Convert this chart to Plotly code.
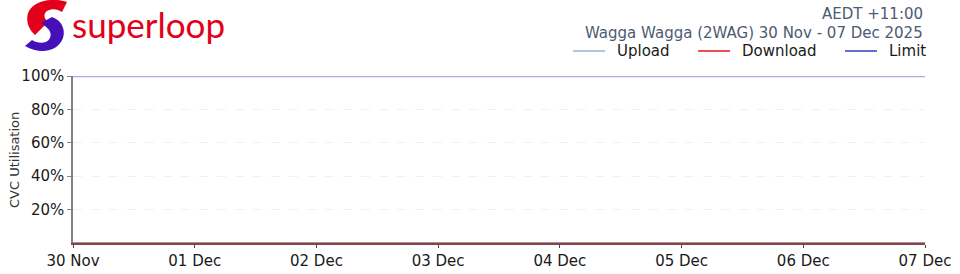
import plotly.graph_objects as go

# ---- data ----
times = ["2025-11-30 00:00", "2025-12-01 00:00", "2025-12-02 00:00", "2025-12-03 00:00",
         "2025-12-04 00:00", "2025-12-05 00:00", "2025-12-06 00:00", "2025-12-07 00:00"]
upload = [0, 0, 0, 0, 0, 0, 0, 0]
download = [0, 0, 0, 0, 0, 0, 0, 0]
limit = [100, 100, 100, 100, 100, 100, 100, 100]
y_ticks = [20, 40, 60, 80, 100]
y_tick_labels = ["20%", "40%", "60%", "80%", "100%"]
x_ticks = times
x_tick_labels = ["30 Nov", "01 Dec", "02 Dec", "03 Dec", "04 Dec", "05 Dec", "06 Dec", "07 Dec"]
series_names = ["Upload", "Download", "Limit"]
series_colors = ["#8fb3da", "#e8141c", "#3b3bbd"]

W, H = 960, 274
ML, MR, MT, MB = 73, 35, 76, 31
PW, PH = W - ML - MR, H - MT - MB

def px(x):
    return (x - ML) / PW

def py(y):
    return (H - MB - y) / PH

def path(cmds):
    out = []
    for c in cmds:
        if isinstance(c, str):
            out.append(c)
        else:
            pts = []
            for i in range(0, len(c), 2):
                pts.append(f"{px(c[i]):.5f},{py(c[i+1]):.5f}")
            out.append(" ".join(pts))
    return " ".join(out)

FONT = "DejaVu Sans"

fig = go.Figure()
fig.add_trace(go.Scatter(x=times, y=upload, mode="lines", name=series_names[0],
                         line=dict(color=series_colors[0], width=1.5), showlegend=False))
fig.add_trace(go.Scatter(x=times, y=download, mode="lines", name=series_names[1],
                         line=dict(color=series_colors[1], width=1.5), opacity=0.5,
                         showlegend=False))
fig.add_trace(go.Scatter(x=times, y=limit, mode="lines", name=series_names[2],
                         line=dict(color=series_colors[2], width=2.5), opacity=0.42,
                         showlegend=False))

shapes = []
annotations = []

# logo
red_path = path(["M", (67, 2), "C", (56, -2, 36, -1, 29, 11), "C", (25, 19, 28, 29, 35, 35),
                 "L", (48, 22), "C", (44, 19, 43, 14, 47, 11), "C", (52, 8, 58, 9, 62, 12), "Z"])
purple_path = path(["M", (52, 17), "C", (61, 20, 66, 29, 63, 38), "C", (59, 50, 42, 56, 25, 46),
                    "L", (32, 40), "C", (38, 44, 47, 44, 50, 38), "C", (52, 33, 49, 29, 45, 26),
                    "L", (41, 23), "Z"])
shapes.append(dict(type="path", xref="paper", yref="paper", path=red_path,
                   fillcolor="#e3001b", line=dict(width=0), layer="above"))
shapes.append(dict(type="path", xref="paper", yref="paper", path=purple_path,
                   fillcolor="#4510b8", line=dict(width=0), layer="above"))
annotations.append(dict(text="superloop", xref="paper", yref="paper", x=px(70), y=py(24),
                        xanchor="left", yanchor="middle", showarrow=False,
                        font=dict(family="Lato", size=35, color="#e3001b")))

# header text
annotations.append(dict(text="AEDT +11:00", xref="paper", yref="paper", x=1, y=py(14),
                        xanchor="right", yanchor="middle", showarrow=False,
                        font=dict(family=FONT, size=15, color="#4d5a72")))
annotations.append(dict(text="Wagga Wagga (2WAG) 30 Nov - 07 Dec 2025", xref="paper", yref="paper",
                        x=1, y=py(33), xanchor="right", yanchor="middle", showarrow=False,
                        font=dict(family=FONT, size=15, color="#4d5a72")))

# y axis title
annotations.append(dict(text="CVC Utilisation", xref="paper", yref="paper", x=px(14), y=py(160),
                        xanchor="center", yanchor="middle", showarrow=False, textangle=-90,
                        font=dict(family=FONT, size=13, color="#333333")))

# custom legend
legend_x = [573, 698, 845]
for name, color, lx in zip(series_names, series_colors, legend_x):
    shapes.append(dict(type="line", xref="paper", yref="paper", x0=px(lx), x1=px(lx + 32),
                       y0=py(51), y1=py(51), line=dict(color=color, width=1.5)))
    annotations.append(dict(text=name, xref="paper", yref="paper", x=px(lx + 42), y=py(51),
                            xanchor="left", yanchor="middle", showarrow=False,
                            font=dict(family=FONT, size=15, color="#1a1a1a")))

fig.update_layout(
    width=W, height=H, margin=dict(l=ML, r=MR, t=MT, b=MB, pad=0, autoexpand=False),
    paper_bgcolor="white", plot_bgcolor="white",
    shapes=shapes, annotations=annotations, showlegend=False,
    font=dict(family=FONT, size=15, color="#1a1a1a"),
)
fig.update_xaxes(
    type="date", range=[times[0], times[-1]], automargin=False,
    tickvals=x_ticks, ticktext=x_tick_labels,
    ticks="outside", ticklen=3, tickcolor="#444444", tickwidth=1,
    showgrid=False, zeroline=False,
    showline=True, linecolor="#7a4a4a", linewidth=1.5, layer="above traces",
    tickfont=dict(family=FONT, size=15, color="#1a1a1a"),
)
fig.update_yaxes(
    range=[0, 100], tickvals=y_ticks, ticktext=y_tick_labels, automargin=False,
    ticks="outside", ticklen=4, tickcolor="#888888", tickwidth=1,
    showgrid=True, gridcolor="#eef1f6", griddash="dash", gridwidth=1,
    zeroline=False, showline=True, linecolor="#808080", linewidth=1.5,
    tickfont=dict(family=FONT, size=15, color="#1a1a1a"),
)

fig.write_html("out.html")
